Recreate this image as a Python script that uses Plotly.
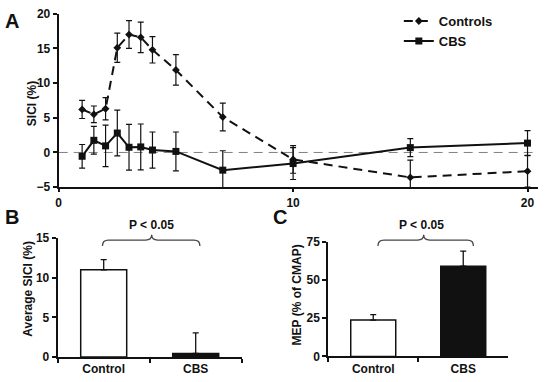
import plotly.graph_objects as go

# ---------------- data ----------------
delays = [1, 1.5, 2, 2.5, 3, 3.5, 4, 5, 7, 10, 15, 20]
controls = [6.2, 5.5, 6.3, 15.1, 17.0, 16.6, 14.8, 11.9, 5.1, -1.0, -3.6, -2.7]
controls_err = [1.3, 1.2, 1.6, 2.1, 2.0, 2.2, 1.9, 2.2, 2.0, 2.0, 2.5, 2.3]
cbs = [-0.55, 1.75, 0.95, 2.8, 0.75, 0.8, 0.35, 0.15, -2.55, -1.6, 0.7, 1.35]
cbs_err = [1.7, 2.0, 3.0, 3.3, 3.3, 3.3, 2.6, 2.8, 2.8, 2.3, 1.3, 1.8]

groups = ["Control", "CBS"]
avg_sici = [11.0, 0.45]
avg_sici_err = [1.3, 2.6]
mep = [23.8, 59.2]
mep_err = [3.6, 9.8]

W, H = 552, 382
FONT = "Liberation Sans, Arial, sans-serif"
INK = "#111111"


def px(x):
    return x / W


def py(y):
    return 1 - y / H


fig = go.Figure()

# ---------------- panel A ----------------
fig.add_trace(go.Scatter(
    x=delays, y=controls, name="Controls", mode="lines+markers",
    line=dict(color=INK, width=2, dash="9px,6px"),
    marker=dict(symbol="diamond", size=6, color=INK),
    error_y=dict(type="data", array=controls_err, color=INK, thickness=1.2, width=3),
    xaxis="x", yaxis="y", cliponaxis=False,
))
fig.add_trace(go.Scatter(
    x=delays, y=cbs, name="CBS", mode="lines+markers",
    line=dict(color=INK, width=2),
    marker=dict(symbol="square", size=7, color=INK),
    error_y=dict(type="data", array=cbs_err, color=INK, thickness=1.2, width=3),
    xaxis="x", yaxis="y", cliponaxis=False,
))

# ---------------- panel B ----------------
fig.add_trace(go.Bar(
    x=groups, y=avg_sici, width=0.5,
    marker=dict(color=["white", INK], line=dict(color=INK, width=1.5)),
    error_y=dict(type="data", array=avg_sici_err, arrayminus=[0, 0], symmetric=False,
                 color=INK, thickness=1.3, width=3),
    xaxis="x2", yaxis="y2", showlegend=False,
))

# ---------------- panel C ----------------
fig.add_trace(go.Bar(
    x=groups, y=mep, width=0.5,
    marker=dict(color=["white", INK], line=dict(color=INK, width=1.5)),
    error_y=dict(type="data", array=mep_err, arrayminus=[0, 0], symmetric=False,
                 color=INK, thickness=1.3, width=3),
    xaxis="x3", yaxis="y3", showlegend=False,
))

tickfont = dict(family=FONT, size=12, color=INK, weight="bold")
catfont = dict(family=FONT, size=12, color=INK, weight="bold")
axis_common = dict(showline=True, linecolor=INK, linewidth=2, showgrid=False,
                   zeroline=False, ticks="outside", ticklen=4, tickwidth=1.5,
                   tickcolor=INK, fixedrange=True)

fig.update_layout(
    width=W, height=H,
    margin=dict(l=0, r=0, t=0, b=0),
    paper_bgcolor="white", plot_bgcolor="white",
    font=dict(family=FONT, color=INK),
    xaxis=dict(domain=[px(56), px(538)], range=[0, 20.45], tickvals=[0, 10, 20],
               anchor="y", tickfont=tickfont, **{**axis_common, "ticklen": 3}),
    yaxis=dict(domain=[py(187), py(7)], range=[-5, 20], tickvals=[-5, 0, 5, 10, 15, 20],
               anchor="x", tickfont=tickfont, **axis_common),
    xaxis2=dict(domain=[px(55), px(240)], range=[-0.5, 1.5], type="category",
                tickson="boundaries", anchor="y2", tickfont=catfont, **axis_common),
    yaxis2=dict(domain=[py(363.3), py(240)], range=[0, 15], tickvals=[0, 5, 10, 15],
                anchor="x2", tickfont=tickfont, **axis_common),
    xaxis3=dict(domain=[px(327), px(508)], range=[-0.5, 1.5], type="category",
                tickson="boundaries", anchor="y3", tickfont=catfont, **axis_common),
    yaxis3=dict(domain=[py(362.7), py(244)], range=[0, 75], tickvals=[0, 25, 50, 75],
                anchor="x3", tickfont=tickfont, **axis_common),
    legend=dict(x=px(398), y=py(-1), xanchor="left", yanchor="top",
                bgcolor="rgba(0,0,0,0)", font=dict(family=FONT, size=13, color=INK, weight="bold"),
                tracegroupgap=0, itemwidth=30),
    showlegend=True,
)

# zero reference line in panel A
fig.add_shape(type="line", xref="x domain", yref="y", x0=0, x1=1, y0=0, y1=0,
              line=dict(color="#808080", width=1, dash="9px,6px"), layer="below")


def brace(x0, x1, xm, y_end, y_mid, y_peak, r=6):
    pts = [
        f"M {px(x0)} {py(y_end)}",
        f"Q {px(x0)} {py(y_mid)} {px(x0 + r)} {py(y_mid)}",
        f"L {px(xm - r)} {py(y_mid)}",
        f"Q {px(xm)} {py(y_mid)} {px(xm)} {py(y_peak)}",
        f"Q {px(xm)} {py(y_mid)} {px(xm + r)} {py(y_mid)}",
        f"L {px(x1 - r)} {py(y_mid)}",
        f"Q {px(x1)} {py(y_mid)} {px(x1)} {py(y_end)}",
    ]
    return " ".join(pts)


fig.add_shape(type="path", xref="paper", yref="paper",
              path=brace(100, 198, 149.5, 248, 242, 236.5), line=dict(color="#444444", width=1.3))
fig.add_shape(type="path", xref="paper", yref="paper",
              path=brace(377, 473, 423, 248, 242, 236.5), line=dict(color="#444444", width=1.3))

ann_font = dict(family=FONT, size=12, color=INK, weight="bold")
annotations = [
    dict(text="P < 0.05", x=px(149.5), y=py(226), font=ann_font),
    dict(text="P < 0.05", x=px(421), y=py(226), font=ann_font),
    dict(text="A", x=px(9), y=py(15), font=dict(family=FONT, size=20, color=INK, weight="bold")),
    dict(text="B", x=px(9), y=py(218.5), font=dict(family=FONT, size=20, color=INK, weight="bold")),
    dict(text="C", x=px(279), y=py(218), font=dict(family=FONT, size=20, color=INK, weight="bold")),
    dict(text="SICI (%)", x=px(29), y=py(100), textangle=-90, font=ann_font),
    dict(text="Average SICI (%)", x=px(25), y=py(292.5), textangle=-90, font=ann_font),
    dict(text="MEP (% of CMAP)", x=px(296), y=py(299), textangle=-90, font=ann_font),
]
for a in annotations:
    fig.add_annotation(xref="paper", yref="paper", showarrow=False,
                       xanchor="center", yanchor="middle", **a)

fig.write_html("out.html")
